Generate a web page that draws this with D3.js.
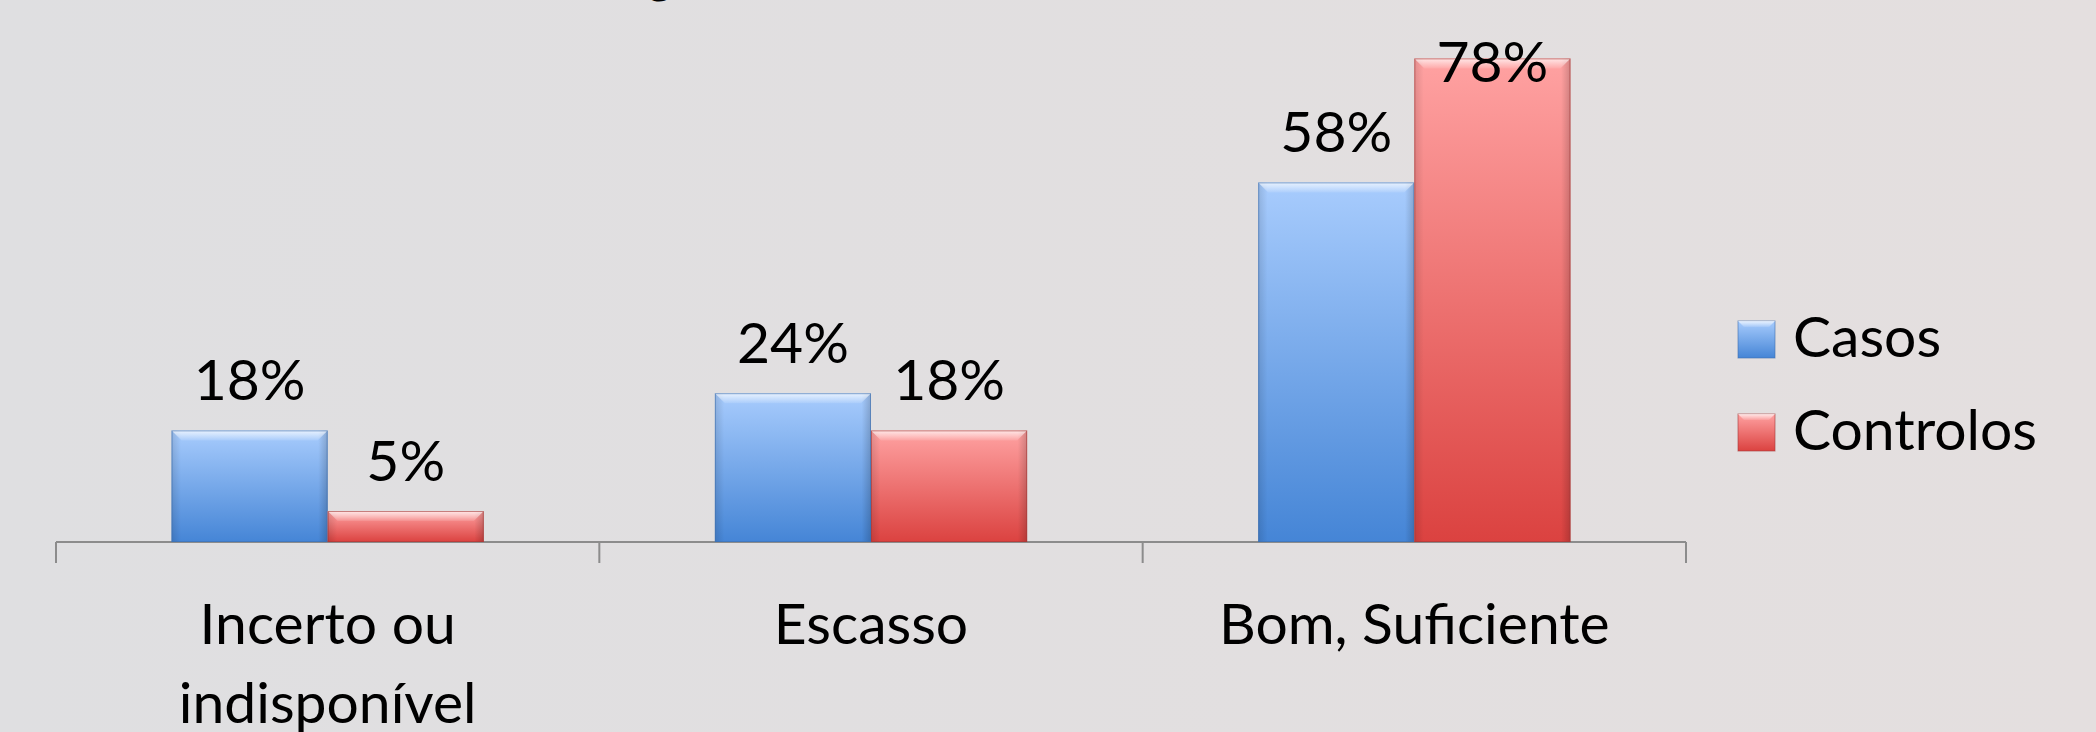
<!DOCTYPE html>
<html>
<head>
<meta charset="utf-8">
<script src="https://cdn.jsdelivr.net/npm/d3@7"></script>
<style>
  body { margin: 0; overflow: hidden; }
  text { font-family: Lato, "Noto Sans", sans-serif; }
</style>
</head>
<body>
<div id="chart"></div>
<script>
const width = 2096
const height = 732

const categories = [["Incerto ou", "indisponível"], ["Escasso"], ["Bom, Suficiente"]]
const series = ["Casos", "Controlos"]
const casos = [0.18, 0.24, 0.58]
const controlos = [0.05, 0.18, 0.78]
const titleText = "Conhecimento do regime"

const colors = {
    Casos: { top: "#a8ccfd", bottom: "#4585d6", edge: "#3f6fae" },
    Controlos: { top: "#ffa2a2", bottom: "#db4240", edge: "#a33a38" }
}

const data = categories.map((c, i) => ({ key: c.join(" "), lines: c, values: [casos[i], controlos[i]] }))

const svg = d3.select("#chart").append("svg").attr("width", width).attr("height", height)
const defs = svg.append("defs")

const bg = defs.append("linearGradient").attr("id", "bg").attr("x1", 0).attr("x2", 1).attr("y1", 0).attr("y2", 0)
bg.append("stop").attr("offset", 0).attr("stop-color", "#dfdfe1")
bg.append("stop").attr("offset", 1).attr("stop-color", "#e4dfdf")
svg.append("rect").attr("width", width).attr("height", height).attr("fill", "url(#bg)")

series.forEach(s => {
    const g = defs.append("linearGradient").attr("id", "grad-" + s).attr("x1", 0).attr("x2", 0).attr("y1", 0).attr("y2", 1)
    g.append("stop").attr("offset", 0).attr("stop-color", colors[s].top)
    g.append("stop").attr("offset", 1).attr("stop-color", colors[s].bottom)
})
const hl = defs.append("linearGradient").attr("id", "hl").attr("x1", 0).attr("x2", 0).attr("y1", 0).attr("y2", 1)
hl.append("stop").attr("offset", 0).attr("stop-color", "#fff").attr("stop-opacity", 0.75)
hl.append("stop").attr("offset", 1).attr("stop-color", "#fff").attr("stop-opacity", 0.1)
const side = defs.append("linearGradient").attr("id", "side").attr("x1", 0).attr("x2", 1)
side.append("stop").attr("offset", 0).attr("stop-color", "#000").attr("stop-opacity", 0.12)
side.append("stop").attr("offset", 0.06).attr("stop-color", "#000").attr("stop-opacity", 0)
side.append("stop").attr("offset", 0.94).attr("stop-color", "#000").attr("stop-opacity", 0)
side.append("stop").attr("offset", 1).attr("stop-color", "#000").attr("stop-opacity", 0.18)

// escalas
const x = d3.scaleBand().domain(data.map(d => d.key)).range([56, 1686]).padding(0)
const xs = d3.scaleBand().domain(series).range([0, x.bandwidth()]).paddingInner(0).paddingOuter(0.74)
const y = d3.scaleLinear().domain([0, 0.8]).range([542, 46])

// titulo (cortado no topo, so se ve a cauda do "g")
const title = svg.append("text").attr("y", -7).attr("font-weight", "bold").attr("font-size", 48).text(titleText)
const pre = svg.append("text").attr("font-weight", "bold").attr("font-size", 48).text("Conhecimento do re")
title.attr("x", 647 - pre.node().getComputedTextLength())
pre.remove()

// eixo
const xAxis = d3.axisBottom(x).tickSize(0).tickFormat("")
const axisG = svg.append("g").attr("transform", `translate(0, 542)`).call(xAxis)
axisG.select(".domain").attr("stroke", "#8c8c8c").attr("stroke-width", 2).attr("d", `M56,0H1686`)
axisG.selectAll(".sep").data(d3.range(data.length + 1)).enter().append("line")
    .attr("x1", i => 56 + i * x.bandwidth()).attr("x2", i => 56 + i * x.bandwidth())
    .attr("y1", 0).attr("y2", 21).attr("stroke", "#8c8c8c").attr("stroke-width", 2)

const catLabels = svg.append("g").selectAll("text").data(data).enter().append("text")
    .attr("x", d => x(d.key) + x.bandwidth() / 2).attr("y", 644)
    .attr("text-anchor", "middle").attr("font-size", 57).attr("fill", "#000")
catLabels.selectAll("tspan").data(d => d.lines).enter().append("tspan")
    .attr("x", function() { return d3.select(this.parentNode).attr("x") })
    .attr("dy", (d, i) => i === 0 ? 0 : 79).text(d => d)

// barras
const groups = svg.append("g").selectAll("g").data(data).enter().append("g")
    .attr("transform", d => `translate(${x(d.key)}, 0)`)

const bars = groups.selectAll("g").data(d => d.values.map((v, i) => ({ s: series[i], v }))).enter().append("g")
bars.append("rect")
    .attr("x", d => xs(d.s)).attr("y", d => y(d.v))
    .attr("width", xs.bandwidth()).attr("height", d => y(0) - y(d.v))
    .attr("fill", d => `url(#grad-${d.s})`)
bars.append("rect")
    .attr("x", d => xs(d.s)).attr("y", d => y(d.v))
    .attr("width", xs.bandwidth()).attr("height", d => y(0) - y(d.v))
    .attr("fill", "url(#side)")
bars.append("path")
    .attr("d", d => {
        const x0 = xs(d.s), x1 = x0 + xs.bandwidth(), t = y(d.v)
        return `M${x0},${t}H${x1}L${x1 - 10},${t + 10}H${x0 + 10}Z`
    })
    .attr("fill", "url(#hl)")
bars.append("rect")
    .attr("x", d => xs(d.s) + 0.5).attr("y", d => y(d.v) + 0.5)
    .attr("width", xs.bandwidth() - 1).attr("height", d => y(0) - y(d.v) - 1)
    .attr("fill", "none").attr("stroke", d => colors[d.s].edge).attr("stroke-opacity", 0.6).attr("stroke-width", 1)

bars.append("text")
    .attr("x", d => xs(d.s) + xs.bandwidth() / 2)
    .attr("y", d => Math.max(y(d.v) - 30, 82))
    .attr("text-anchor", "middle").attr("font-size", 57).attr("fill", "#000")
    .text(d => d3.format(".0%")(d.v))

// legenda
const legend = svg.append("g").selectAll("g").data(series).enter().append("g")
    .attr("transform", (d, i) => `translate(1738, ${321 + i * 93})`)
legend.append("rect").attr("width", 37).attr("height", 37).attr("fill", d => `url(#grad-${d})`)
    .attr("stroke", d => colors[d].edge).attr("stroke-opacity", 0.6)
legend.append("path").attr("d", "M0,0H37L31,6H6Z").attr("fill", "url(#hl)")
legend.append("text").attr("x", 55).attr("y", 36).attr("font-size", 57).attr("fill", "#000").text(d => d)
</script>
</body>
</html>
